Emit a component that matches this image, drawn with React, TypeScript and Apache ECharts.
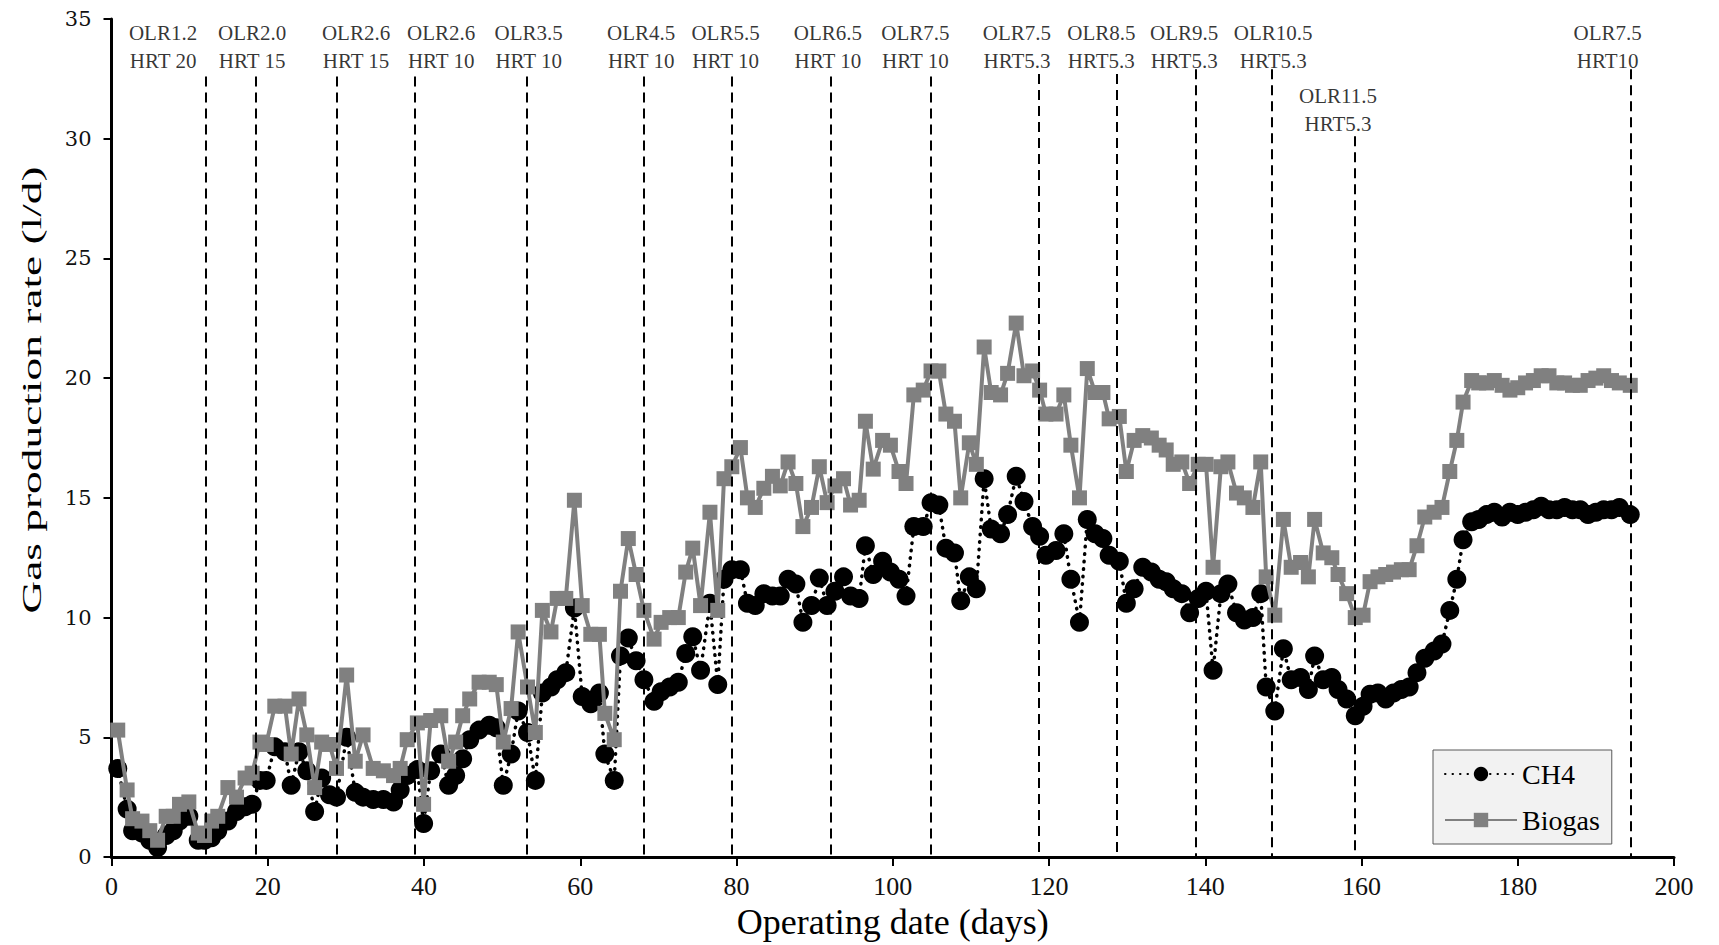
import React, { useEffect, useRef } from "react";
import * as echarts from "echarts";

const days = [
  0.8, 2.0, 2.7, 3.9, 4.9, 5.9, 7.0, 7.9, 8.7, 9.9,
  11.1, 11.9, 12.8, 13.6, 14.9, 16.0, 17.1, 18.0, 19.0, 19.8,
  20.9, 22.2, 23.0, 24.0, 25.0, 26.0, 26.9, 27.9, 28.8, 30.1,
  31.2, 32.2, 33.5, 34.8, 36.1, 36.95, 37.85, 39.15, 39.95, 40.85,
  42.15, 43.15, 44.05, 44.95, 45.85, 47.05, 48.35, 49.25, 50.15, 51.15,
  52.05, 53.25, 54.25, 55.15, 56.25, 57.05, 58.15, 59.25, 60.25, 61.35,
  62.45, 63.15, 64.35, 65.15, 66.15, 67.15, 68.15, 69.45, 70.35, 71.45,
  72.55, 73.5, 74.4, 75.4, 76.6, 77.6, 78.4, 79.4, 80.5, 81.4,
  82.4, 83.5, 84.6, 85.6, 86.6, 87.6, 88.5, 89.6, 90.6, 91.6,
  92.6, 93.7, 94.6, 95.7, 96.5, 97.5, 98.7, 99.7, 100.8, 101.7,
  102.7, 103.9, 104.9, 105.9, 106.8, 107.9, 108.7, 109.8, 110.7, 111.7,
  112.6, 113.8, 114.7, 115.8, 116.8, 117.9, 118.8, 119.6, 120.9, 121.9,
  122.8, 123.9, 124.9, 125.9, 126.9, 127.7, 129.0, 129.9, 130.9, 132.0,
  133.1, 134.1, 135.0, 135.9, 137.0, 138.0, 139.1, 140.1, 141.0, 142.0,
  142.9, 144.0, 145.0, 146.1, 147.1, 147.8, 148.9, 150.0, 151.0, 152.2,
  153.2, 154.0, 155.1, 156.2, 157.0, 158.1, 159.2, 160.2, 161.1, 162.1,
  163.1, 164.1, 165.1, 166.1, 167.1, 168.1, 169.3, 170.3, 171.3, 172.2,
  173.0, 174.1, 175, 176, 177, 178, 179, 180, 181, 182,
  183, 184, 185, 186, 187, 188, 189, 190, 191, 192,
  193, 194.4,
];

// Biogas production rate (l/d)
const biogas = [
  5.3, 2.8, 1.6, 1.5, 1.1, 0.7, 1.7, 1.7, 2.2, 2.3,
  1.0, 0.9, 1.5, 1.7, 2.9, 2.5, 3.3, 3.5, 4.8, 4.7,
  6.3, 6.3, 4.3, 6.6, 5.1, 2.9, 4.8, 4.7, 3.7, 7.6,
  4.0, 5.1, 3.7, 3.6, 3.4, 3.7, 4.9, 5.6, 2.2, 5.7,
  5.9, 4.0, 4.8, 5.9, 6.6, 7.3, 7.3, 7.2, 4.8, 6.2,
  9.4, 7.1, 5.2, 10.3, 9.4, 10.8, 10.8, 14.9, 10.5, 9.3,
  9.3, 6.0, 4.9, 11.1, 13.3, 11.8, 10.3, 9.1, 9.8, 10.0,
  10.0, 11.9, 12.9, 10.5, 14.4, 10.3, 15.8, 16.3, 17.1, 15.0,
  14.6, 15.4, 15.9, 15.5, 16.5, 15.6, 13.8, 14.6, 16.3, 14.8,
  15.5, 15.8, 14.7, 14.9, 18.2, 16.2, 17.4, 17.2, 16.1, 15.6,
  19.3, 19.5, 20.3, 20.3, 18.5, 18.2, 15.0, 17.3, 16.4, 21.3,
  19.4, 19.3, 20.2, 22.3, 20.1, 20.3, 19.5, 18.5, 18.5, 19.3,
  17.2, 15.0, 20.4, 19.4, 19.4, 18.3, 18.4, 16.1, 17.4, 17.6,
  17.5, 17.2, 17.0, 16.4, 16.5, 15.6, 16.4, 16.4, 12.1, 16.3,
  16.5, 15.2, 15.0, 14.6, 16.5, 11.7, 10.1, 14.1, 12.1, 12.3,
  11.7, 14.1, 12.7, 12.5, 11.8, 11.0, 10.0, 10.1, 11.5, 11.7,
  11.8, 11.9, 12.0, 12.0, 13.0, 14.2, 14.4, 14.6, 16.1, 17.4,
  19.0, 19.9, 19.8, 19.8, 19.9, 19.7, 19.5, 19.6, 19.8, 19.9,
  20.1, 20.1, 19.8, 19.8, 19.7, 19.7, 19.9, 20.0, 20.1, 19.9,
  19.8, 19.7,
];

// CH4 production rate (l/d)
const ch4 = [
  3.7, 2.0, 1.1, 1.0, 0.7, 0.4, 0.9, 1.1, 1.5, 1.7,
  0.7, 0.7, 0.8, 1.1, 1.5, 1.9, 2.1, 2.2, 3.2, 3.2,
  4.6, 4.4, 3.0, 4.4, 3.6, 1.9, 3.3, 2.6, 2.5, 5.0,
  2.7, 2.5, 2.4, 2.4, 2.3, 2.8, 3.4, 3.65, 1.4, 3.6,
  4.3, 3.0, 3.4, 4.1, 4.9, 5.3, 5.5, 5.4, 3.0, 4.3,
  6.1, 5.2, 3.2, 6.85, 7.1, 7.4, 7.7, 10.4, 6.7, 6.4,
  6.85, 4.3, 3.2, 8.4, 9.15, 8.2, 7.4, 6.5, 6.9, 7.1,
  7.3, 8.5, 9.2, 7.8, 10.6, 7.2, 11.6, 12.0, 12.0, 10.6,
  10.5, 11.0, 10.9, 10.9, 11.6, 11.4, 9.8, 10.5, 11.65, 10.5,
  11.1, 11.7, 10.9, 10.8, 13.0, 11.8, 12.35, 11.9, 11.6, 10.9,
  13.8, 13.8, 14.8, 14.7, 12.9, 12.7, 10.7, 11.7, 11.2, 15.8,
  13.7, 13.5, 14.3, 15.9, 14.85, 13.8, 13.4, 12.6, 12.8, 13.5,
  11.6, 9.8, 14.1, 13.5, 13.3, 12.6, 12.35, 10.6, 11.2, 12.1,
  11.9, 11.6, 11.5, 11.2, 11.0, 10.2, 10.8, 11.1, 7.8, 11.0,
  11.4, 10.2, 9.9, 10.0, 11.0, 7.1, 6.1, 8.7, 7.4, 7.5,
  7.0, 8.4, 7.4, 7.5, 7.0, 6.6, 5.9, 6.3, 6.8, 6.85,
  6.6, 6.85, 7.0, 7.1, 7.7, 8.3, 8.6, 8.9, 10.3, 11.6,
  13.25, 14.0, 14.1, 14.3, 14.4, 14.2, 14.4, 14.3, 14.4, 14.5,
  14.65, 14.5, 14.5, 14.6, 14.5, 14.5, 14.3, 14.4, 14.5, 14.5,
  14.6, 14.3,
];

// Phase boundaries (dashed lines) and their upper ends
const lineDays = [12, 18.5, 28.8, 38.8, 53.1, 68.1, 79.4, 92.0, 104.8, 118.7, 128.7, 138.8, 148.5, 159.1, 194.4];
const lineTops = [32.6, 32.6, 32.6, 32.6, 32.6, 32.6, 32.6, 32.6, 32.6, 32.7, 32.7, 32.9, 32.9, 30.1, 32.9];

// Phase annotations
const phaseX = [6.6, 18.0, 31.3, 42.2, 53.4, 67.8, 78.6, 91.7, 102.9, 115.9, 126.7, 137.3, 148.7, 157.0, 191.5];
const phaseY = [33.84, 33.84, 33.84, 33.84, 33.84, 33.84, 33.84, 33.84, 33.84, 33.84, 33.84, 33.84, 33.84, 31.2, 33.84];
const phaseOLR = ["OLR1.2", "OLR2.0", "OLR2.6", "OLR2.6", "OLR3.5", "OLR4.5", "OLR5.5", "OLR6.5", "OLR7.5", "OLR7.5", "OLR8.5", "OLR9.5", "OLR10.5", "OLR11.5", "OLR7.5"];
const phaseHRT = ["HRT 20", "HRT 15", "HRT 15", "HRT 10", "HRT 10", "HRT 10", "HRT 10", "HRT 10", "HRT 10", "HRT5.3", "HRT5.3", "HRT5.3", "HRT5.3", "HRT5.3", "HRT10"];

const SERIF = '"Liberation Serif", "Times New Roman", serif';

export default function App() {
  const ref = useRef<HTMLDivElement>(null);

  useEffect(() => {
    document.body.style.margin = "0";
    const chart = echarts.init(ref.current as HTMLDivElement, null, { renderer: "svg" });

    const ch4Data = days.map((d, i) => [d, ch4[i]]);
    const bioData = days.map((d, i) => [d, biogas[i]]);
    const phaseData = phaseX.map((x, i) => ({ value: [x, phaseY[i]] }));
    const lineData = lineDays.map((x, i) => [
      { coord: [x, lineTops[i]] },
      { coord: [x, 0] },
    ]);

    chart.setOption({
      animation: false,
      backgroundColor: "#ffffff",
      grid: { left: 111.5, right: 45, top: 19, bottom: 88, containLabel: false },
      xAxis: {
        type: "value",
        min: 0,
        max: 200,
        interval: 20,
        name: "Operating date (days)",
        nameLocation: "middle",
        nameGap: 42,
        nameTextStyle: { fontFamily: SERIF, fontSize: 36, color: "#000" },
        axisLine: { show: true, onZero: false, lineStyle: { color: "#000", width: 3 } },
        axisTick: { show: true, inside: false, length: 9, lineStyle: { color: "#000", width: 2 } },
        axisLabel: { fontFamily: SERIF, fontSize: 26, color: "#111", margin: 16 },
        splitLine: { show: false },
      },
      yAxis: {
        type: "value",
        min: 0,
        max: 35,
        interval: 5,
        axisLine: { show: true, onZero: false, lineStyle: { color: "#000", width: 3 } },
        axisTick: { show: true, inside: false, length: 8, lineStyle: { color: "#000", width: 2 } },
        axisLabel: { fontFamily: '"DejaVu Serif", serif', fontSize: 21, color: "#111", margin: 20 },
        splitLine: { show: false },
      },
      legend: {
        data: ["CH4", "Biogas"],
        orient: "vertical",
        left: 1433,
        top: 750,
        itemWidth: 72,
        itemHeight: 18,
        itemGap: 16,
        padding: [9, 12, 9, 11],
        backgroundColor: "#f2f2f2",
        borderColor: "#595959",
        borderWidth: 1,
        textStyle: { fontFamily: SERIF, fontSize: 28, color: "#000", lineHeight: 30 },
      },
      graphic: [
        {
          type: "text",
          x: 31,
          y: 390,
          rotation: Math.PI / 2,
          scaleX: 1.62,
          scaleY: 1,
          style: {
            text: "Gas production rate (l/d)",
            font: '28px "Liberation Serif", serif',
            fill: "#000",
            textAlign: "center",
            textVerticalAlign: "middle",
          },
        },
      ],
      series: [
        {
          name: "phases",
          type: "scatter",
          symbolSize: 0,
          data: phaseData,
          silent: true,
          z: 1,
          label: {
            show: true,
            position: "inside",
            formatter: (p: any) => phaseOLR[p.dataIndex] + "\n" + phaseHRT[p.dataIndex],
            fontFamily: SERIF,
            fontSize: 21,
            lineHeight: 28,
            color: "#000",
          },
          markLine: {
            silent: true,
            symbol: ["none", "none"],
            label: { show: false },
            lineStyle: { color: "#000", width: 2, type: [10, 6] },
            data: lineData,
          },
        },
        {
          name: "CH4",
          type: "line",
          data: ch4Data,
          symbol: "circle",
          symbolSize: 19,
          z: 3,
          itemStyle: { color: "#000" },
          lineStyle: { color: "#000", width: 3.5, type: [0.5, 7], cap: "round" },
        },
        {
          name: "Biogas",
          type: "line",
          data: bioData,
          symbol: "rect",
          symbolSize: 15,
          z: 4,
          itemStyle: { color: "#808080" },
          lineStyle: { color: "#808080", width: 4 },
        },
      ],
    });

    return () => chart.dispose();
  }, []);

  return (
    <div
      ref={ref}
      style={{ width: 1719, height: 945, position: "absolute", left: 0, top: 0 }}
    />
  );
}
